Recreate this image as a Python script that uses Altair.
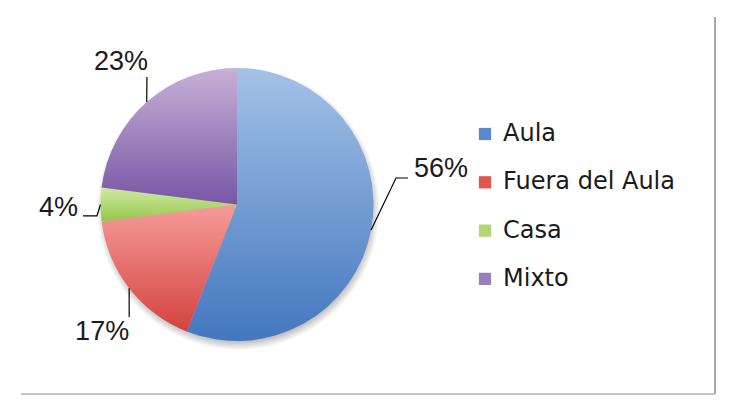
import math

import altair as alt
import pandas as pd

# %% data
categories = ["Aula", "Fuera del Aula", "Casa", "Mixto"]
shares = [56, 17, 4, 23]

# %% look
top_colors = ["#a3c2e7", "#f69c99", "#d0eaa3", "#c6b1d7"]
bottom_colors = ["#4477bf", "#d4423f", "#97c74c", "#7856a5"]
legend_colors = ["#5a8acb", "#e05552", "#b2d576", "#9880bd"]

W, H = 728, 397          # plot area = whole page minus margin
R = 136.5                # pie radius, px
CX, CY = 229, 196.5      # pie centre inside the plot area, px

# leader lines after the slice edge, and label anchors (pie-radius units, y up)
leader_tail = {
    "Aula": [(1.165, 0.194), (1.253, 0.194)],
    "Fuera del Aula": [(-0.79, -0.824)],
    "Casa": [(-1.026, -0.084), (-1.128, -0.084)],
    "Mixto": [(-0.66, 0.934)],
}
label_anchor = {
    "Aula": (1.297, 0.26, "left"),
    "Fuera del Aula": (-0.79, -0.934, "right"),
    "Casa": (-1.165, -0.026, "right"),
    "Mixto": (-0.652, 1.044, "right"),
}

# %%
total = sum(shares)
pie = pd.DataFrame(
    {"cat": categories, "share": shares, "order": range(len(shares)), "cx": 0.0, "cy": 0.0}
)

rows, labels = [], []
cum = 0
for cat, v in zip(categories, shares):
    phi = 2 * math.pi * (cum + v / 2) / total
    cum += v
    pts = [(math.sin(phi), math.cos(phi))] + leader_tail[cat]
    for i, (px, py) in enumerate(pts):
        rows.append({"cat": cat, "seq": i, "x": px, "y": py})
    ax, ay, al = label_anchor[cat]
    labels.append({"txt": f"{round(100 * v / total)}%", "x": ax, "y": ay, "align": al})
leaders = pd.DataFrame(rows)
texts = pd.DataFrame(labels)

xs = alt.Scale(domain=[-CX / R, (W - CX) / R], nice=False, zero=False)
ys = alt.Scale(domain=[(CY - H) / R, CY / R], nice=False, zero=False)


def grad(top, bottom):
    return {
        "gradient": "linear", "x1": 0, "y1": 0, "x2": 0, "y2": 1,
        "stops": [{"offset": 0, "color": top}, {"offset": 1, "color": bottom}],
    }


shadow = (
    alt.Chart(pd.DataFrame({"cx": [0.01], "cy": [-0.03], "one": [1]}))
    .mark_arc(
        radius=R + 5,
        fill={
            "gradient": "radial", "x1": 0.5, "y1": 0.5, "r1": 0,
            "x2": 0.5, "y2": 0.5, "r2": 0.5,
            "stops": [
                {"offset": 0, "color": "rgba(0,0,0,0.35)"},
                {"offset": 0.93, "color": "rgba(0,0,0,0.28)"},
                {"offset": 1, "color": "rgba(0,0,0,0)"},
            ],
        },
    )
    .encode(
        x=alt.X("cx:Q", scale=xs, axis=None),
        y=alt.Y("cy:Q", scale=ys, axis=None),
        theta=alt.Theta("one:Q"),
    )
)

slices = (
    alt.Chart(pie)
    .mark_arc(radius=R)
    .encode(
        x=alt.X("cx:Q", scale=xs, axis=None),
        y=alt.Y("cy:Q", scale=ys, axis=None),
        theta=alt.Theta("share:Q", stack=True),
        order=alt.Order("order:Q"),
        color=alt.Color(
            "cat:N",
            sort=categories,
            scale=alt.Scale(domain=categories, range=legend_colors),
            legend=alt.Legend(
                title=None, orient="none", legendX=465, legendY=114,
                symbolType="square", symbolSize=150, symbolStrokeWidth=0,
                symbolOpacity=1, labelFont="DejaVu Sans", labelFontSize=24,
                labelColor="#1a1a1a", labelOffset=6, rowPadding=24.3, labelLimit=300,
            ),
            condition=[
                {"test": f"datum.cat === '{c}'", "value": grad(t, b)}
                for c, t, b in zip(categories, top_colors, bottom_colors)
            ],
        ),
    )
)

lines = (
    alt.Chart(leaders)
    .mark_line(color="#000000", strokeWidth=1.2)
    .encode(
        x=alt.X("x:Q", scale=xs, axis=None),
        y=alt.Y("y:Q", scale=ys, axis=None),
        detail="cat:N",
        order="seq:Q",
    )
)


def label_layer(al):
    return (
        alt.Chart(texts)
        .transform_filter(f"datum.align === '{al}'")
        .mark_text(align=al, baseline="middle", font="Liberation Sans", fontSize=27, color="#1a1a1a")
        .encode(
            x=alt.X("x:Q", scale=xs, axis=None),
            y=alt.Y("y:Q", scale=ys, axis=None),
            text="txt:N",
        )
    )


one = pd.DataFrame({"k": [0]})
right_edge = alt.Chart(one).mark_rule(color="#8c8c8c", strokeWidth=1.5).encode(
    x=alt.value(707), y=alt.value(9), y2=alt.value(386)
)
bottom_edge = alt.Chart(one).mark_rule(color="#b0b0b0", strokeWidth=1.5).encode(
    x=alt.value(13), x2=alt.value(707), y=alt.value(386)
)

chart = (
    alt.layer(shadow, slices, lines, label_layer("left"), label_layer("right"), right_edge, bottom_edge)
    .resolve_scale(theta="independent")
    .properties(width=W, height=H, autosize="none", padding=0, background="white")
    .configure_view(strokeWidth=0)
)

chart.save("out.html", embed_options={"renderer": "svg", "actions": False})
